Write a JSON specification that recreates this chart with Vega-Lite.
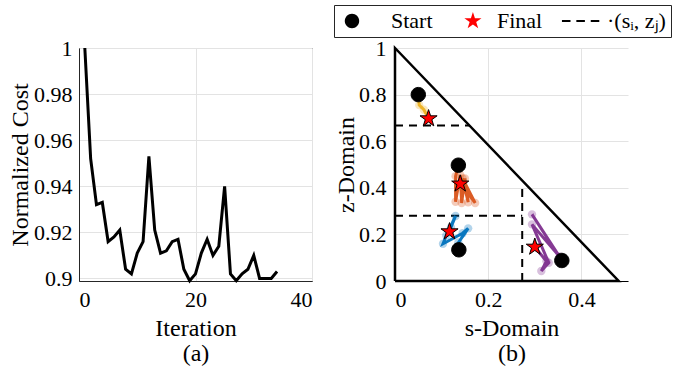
{
  "$schema": "https://vega.github.io/schema/vega-lite/v6.json",
  "background": "white",
  "padding": {"left": 8, "top": 4, "right": 5, "bottom": 5},
  "spacing": 83,
  "bounds": "flush",
  "resolve": {"scale": {"x": "independent", "y": "independent"}},
  "config": {
    "font": "Times New Roman, Liberation Serif, serif",
    "view": {"stroke": null},
    "axis": {
      "labelFont": "Times New Roman, Liberation Serif, serif", "titleFont": "Times New Roman, Liberation Serif, serif",
      "labelFontSize": 22, "titleFontSize": 24, "titleFontWeight": "normal",
      "labelColor": "black", "titleColor": "black",
      "gridColor": "#e3e3e3", "gridWidth": 1, "domainColor": "#262626",
      "ticks": false, "labelPadding": 8
    },
    "legend": {"labelFont": "Times New Roman, Liberation Serif, serif"}
  },
  "datasets": {
    "cost": [
      {"iter": 1, "cost": 1.0}, {"iter": 2, "cost": 0.952}, {"iter": 3, "cost": 0.932}, {"iter": 4, "cost": 0.933},
      {"iter": 5, "cost": 0.916}, {"iter": 6, "cost": 0.918}, {"iter": 7, "cost": 0.921}, {"iter": 8, "cost": 0.904},
      {"iter": 9, "cost": 0.902}, {"iter": 10, "cost": 0.911}, {"iter": 11, "cost": 0.916}, {"iter": 12, "cost": 0.953},
      {"iter": 13, "cost": 0.921}, {"iter": 14, "cost": 0.911}, {"iter": 15, "cost": 0.912}, {"iter": 16, "cost": 0.916},
      {"iter": 17, "cost": 0.917}, {"iter": 18, "cost": 0.904}, {"iter": 19, "cost": 0.899}, {"iter": 20, "cost": 0.902},
      {"iter": 21, "cost": 0.911}, {"iter": 22, "cost": 0.917}, {"iter": 23, "cost": 0.910}, {"iter": 24, "cost": 0.914},
      {"iter": 25, "cost": 0.940}, {"iter": 26, "cost": 0.902}, {"iter": 27, "cost": 0.899}, {"iter": 28, "cost": 0.902},
      {"iter": 29, "cost": 0.904}, {"iter": 30, "cost": 0.910}, {"iter": 31, "cost": 0.900}, {"iter": 32, "cost": 0.900},
      {"iter": 33, "cost": 0.900}, {"iter": 34, "cost": 0.903}
    ],
    "tri": [
      {"s": 0, "z": 0, "o": 0}, {"s": 0, "z": 1, "o": 1}, {"s": 0.48, "z": 0, "o": 2}, {"s": 0, "z": 0, "o": 3}
    ],
    "dash": [
      {"s": 0, "z": 0.667, "s2": 0.16, "z2": 0.667},
      {"s": 0, "z": 0.28, "s2": 0.273, "z2": 0.28},
      {"s": 0.273, "z": 0, "s2": 0.273, "z2": 0.40}
    ],
    "traj": [
      {"g": 1, "o": 0, "s": 0.050, "z": 0.800}, {"g": 1, "o": 1, "s": 0.052, "z": 0.755},
      {"g": 1, "o": 2, "s": 0.062, "z": 0.735}, {"g": 1, "o": 3, "s": 0.072, "z": 0.697},
      {"g": 2, "o": 0, "s": 0.136, "z": 0.497}, {"g": 2, "o": 1, "s": 0.130, "z": 0.450},
      {"g": 2, "o": 2, "s": 0.130, "z": 0.340}, {"g": 2, "o": 3, "s": 0.140, "z": 0.455},
      {"g": 2, "o": 4, "s": 0.143, "z": 0.335}, {"g": 2, "o": 5, "s": 0.150, "z": 0.440},
      {"g": 2, "o": 6, "s": 0.157, "z": 0.338}, {"g": 2, "o": 7, "s": 0.145, "z": 0.440},
      {"g": 2, "o": 8, "s": 0.172, "z": 0.335}, {"g": 2, "o": 9, "s": 0.140, "z": 0.417},
      {"g": 3, "o": 0, "s": 0.137, "z": 0.134}, {"g": 3, "o": 1, "s": 0.136, "z": 0.165},
      {"g": 3, "o": 2, "s": 0.157, "z": 0.226}, {"g": 3, "o": 3, "s": 0.145, "z": 0.205},
      {"g": 3, "o": 4, "s": 0.103, "z": 0.160}, {"g": 3, "o": 5, "s": 0.110, "z": 0.195},
      {"g": 3, "o": 6, "s": 0.130, "z": 0.279}, {"g": 3, "o": 7, "s": 0.120, "z": 0.230},
      {"g": 3, "o": 8, "s": 0.117, "z": 0.212},
      {"g": 4, "o": 0, "s": 0.358, "z": 0.088}, {"g": 4, "o": 1, "s": 0.294, "z": 0.286},
      {"g": 4, "o": 2, "s": 0.353, "z": 0.105}, {"g": 4, "o": 3, "s": 0.294, "z": 0.243},
      {"g": 4, "o": 4, "s": 0.330, "z": 0.078}, {"g": 4, "o": 5, "s": 0.314, "z": 0.043},
      {"g": 4, "o": 6, "s": 0.325, "z": 0.085}, {"g": 4, "o": 7, "s": 0.300, "z": 0.146}
    ],
    "markers": [
      {"kind": "Start", "s": 0.050, "z": 0.800}, {"kind": "Start", "s": 0.136, "z": 0.497},
      {"kind": "Start", "s": 0.137, "z": 0.134}, {"kind": "Start", "s": 0.358, "z": 0.088},
      {"kind": "Final", "s": 0.072, "z": 0.697}, {"kind": "Final", "s": 0.140, "z": 0.417},
      {"kind": "Final", "s": 0.117, "z": 0.212}, {"kind": "Final", "s": 0.300, "z": 0.146}
    ]
  },
  "hconcat": [
    {
      "width": 233, "height": 233,
      "view": {"stroke": "#262626", "strokeWidth": 1},
      "data": {"name": "cost"},
      "mark": {"type": "line", "color": "black", "strokeWidth": 3},
      "encoding": {
        "x": {"field": "iter", "type": "quantitative", "scale": {"domain": [0, 40]},
              "axis": {"values": [0, 20, 40], "title": ["Iteration", "(a)"], "titlePadding": 6, "titleLineHeight": 25, "domainColor": "#262626"}},
        "y": {"field": "cost", "type": "quantitative", "scale": {"domain": [0.8989, 1], "zero": false},
              "axis": {"values": [0.9, 0.92, 0.94, 0.96, 0.98, 1], "format": "~g", "title": "Normalized Cost", "titlePadding": 1, "labelPadding": 7}}
      }
    },
    {
      "width": 233, "height": 233,
      "encoding": {
        "x": {"field": "s", "type": "quantitative", "scale": {"domain": [0, 0.5]},
              "axis": {"values": [0, 0.2, 0.4], "format": "~g", "title": ["s-Domain", "(b)"], "titlePadding": 6, "titleLineHeight": 25, "domainColor": "black"}},
        "y": {"field": "z", "type": "quantitative", "scale": {"domain": [0, 1]},
              "axis": {"values": [0, 0.2, 0.4, 0.6, 0.8, 1], "format": "~g", "title": "z-Domain", "titlePadding": 0, "labelPadding": 9, "domainColor": "black"}}
      },
      "layer": [
        {
          "data": {"name": "dash"},
          "mark": {"type": "rule", "color": "black", "strokeWidth": 2, "strokeDash": [8, 6]},
          "encoding": {"x2": {"field": "s2"}, "y2": {"field": "z2"}}
        },
        {
          "data": {"name": "tri"},
          "mark": {"type": "line", "color": "black", "strokeWidth": 2.5},
          "encoding": {"order": {"field": "o", "type": "quantitative"}}
        },
        {
          "data": {"name": "traj"},
          "mark": {"type": "point", "filled": true, "size": 70, "opacity": 0.3},
          "encoding": {
            "color": {"field": "g", "type": "nominal", "scale": {"domain": [1, 2, 3, 4], "range": ["#EDB120", "#D95319", "#0072BD", "#7E2F8E"]}, "legend": null}
          }
        },
        {
          "data": {"name": "traj"},
          "mark": {"type": "line", "strokeWidth": 3, "opacity": 0.95},
          "encoding": {
            "color": {"field": "g", "type": "nominal", "scale": {"domain": [1, 2, 3, 4], "range": ["#EDB120", "#D95319", "#0072BD", "#7E2F8E"]}, "legend": null},
            "detail": {"field": "g"},
            "order": {"field": "o", "type": "quantitative"}
          }
        },
        {
          "data": {"name": "markers"},
          "transform": [{"filter": "datum.kind === 'Start'"}],
          "mark": {"type": "point", "filled": true, "fill": "black", "stroke": "black", "strokeWidth": 1, "size": 324, "opacity": 1,
                   "shape": "M0.8,0A0.8,0.8,0,1,1,-0.8,0A0.8,0.8,0,1,1,0.8,0Z"}
        },
        {
          "data": {"name": "markers"},
          "transform": [{"filter": "datum.kind === 'Final'"}],
          "mark": {"type": "point", "filled": true, "fill": "red", "stroke": "black", "strokeWidth": 1, "size": 324, "opacity": 1,
                   "shape": "M0,-1L0.2245,-0.309L0.951,-0.309L0.3633,0.118L0.5878,0.809L0,0.382L-0.5878,0.809L-0.3633,0.118L-0.951,-0.309L-0.2245,-0.309Z"}
        },
        {
          "data": {"name": "markers"},
          "mark": {"type": "point", "filled": true, "stroke": "black", "strokeWidth": 1, "size": 324, "opacity": 0},
          "encoding": {
            "shape": {"field": "kind", "type": "nominal",
              "scale": {"domain": ["Start", "Final", "·(sᵢ, zⱼ)"],
                        "range": ["M1.02,0A0.8,0.8,0,1,1,-0.58,0A0.8,0.8,0,1,1,1.02,0Z",
                                  "M1.88,-1L2.1045,-0.309L2.831,-0.309L2.2433,0.118L2.4678,0.809L1.88,0.382L1.2922,0.809L1.5167,0.118L0.929,-0.309L1.6555,-0.309Z",
                                  "M-0.45,-0.12H0.5V0.12H-0.45ZM1.15,-0.12H2.1V0.12H1.15ZM2.75,-0.12H3.7V0.12H2.75Z"]},
              "legend": {"title": null, "orient": "none", "legendX": 255, "legendY": -43, "direction": "horizontal",
                         "fillColor": "white", "strokeColor": "#262626", "padding": 5,
                         "labelFontSize": 22, "labelColor": "black", "labelOffset": 30, "columnPadding": 12,
                         "symbolSize": 324, "symbolStrokeColor": "black", "symbolStrokeWidth": 1, "symbolOpacity": 1}},
            "fill": {"field": "kind", "type": "nominal",
              "scale": {"domain": ["Start", "Final", "·(sᵢ, zⱼ)"], "range": ["black", "red", "black"]},
              "legend": {"title": null, "orient": "none", "legendX": 255, "legendY": -43, "direction": "horizontal",
                         "fillColor": "white", "strokeColor": "#262626", "padding": 5,
                         "labelFontSize": 22, "labelColor": "black", "labelOffset": 30, "columnPadding": 12,
                         "symbolSize": 324, "symbolStrokeColor": "black", "symbolStrokeWidth": 1, "symbolOpacity": 1}}
          }
        }
      ]
    }
  ]
}
